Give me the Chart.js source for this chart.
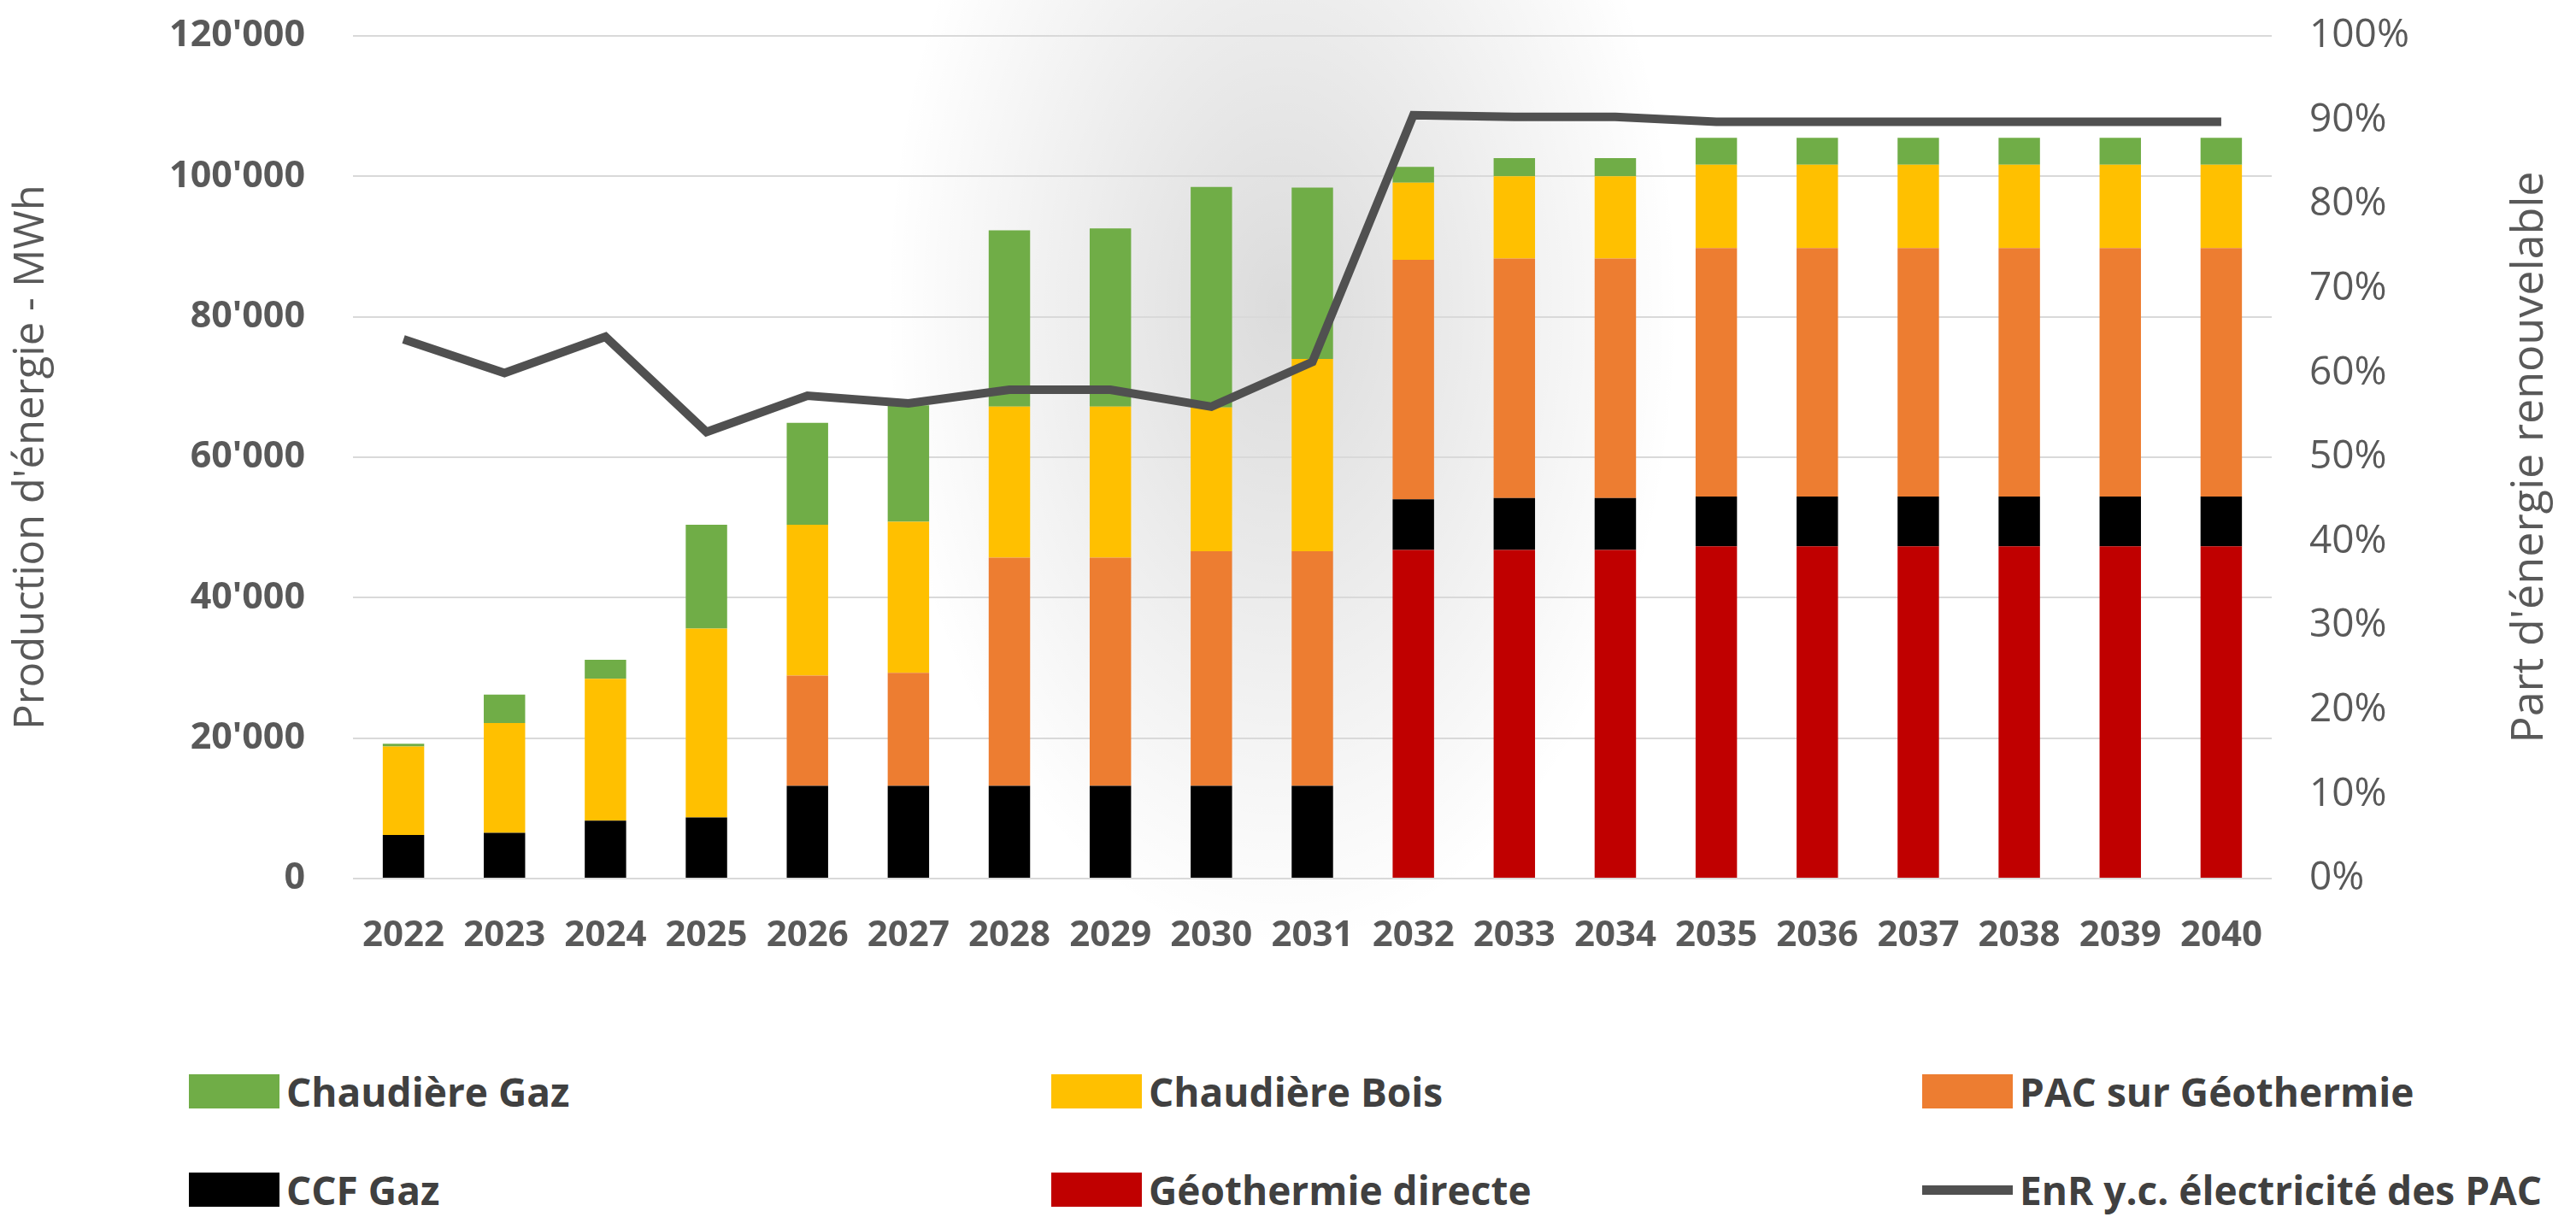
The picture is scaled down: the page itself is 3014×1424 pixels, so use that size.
<!DOCTYPE html>
<html lang="fr">
<head>
<meta charset="utf-8">
<script src="https://cdn.jsdelivr.net/npm/chart.js@4.4.1/dist/chart.umd.min.js"></script>
<style>
    html, body { margin: 0; padding: 0; }
    body {
        width: 3014px; height: 1424px; position: relative; overflow: hidden;
        background: #fff radial-gradient(ellipse 620px 1000px at 1500px 360px, rgba(0,0,0,0.14), rgba(0,0,0,0) 75%);
        font-family: 'Open Sans', sans-serif;
    }
    #zone { position: absolute; left: 0; top: 0; width: 3014px; height: 1160px; }
    .leg { position: absolute; display: flex; align-items: center; font-weight: 700; font-size: 46px; color: #404040; white-space: nowrap; }
    .leg .box { width: 106px; height: 40px; margin-right: 8px; }
    .leg .trait { width: 106px; height: 11px; margin-right: 8px; }
</style>
</head>
<body>
<div id="zone"><canvas id="chartEnergie"></canvas></div>
<div id="legende"></div>
<script>
// Données
const annees = ['2022', '2023', '2024', '2025', '2026', '2027', '2028', '2029', '2030', '2031',
    '2032', '2033', '2034', '2035', '2036', '2037', '2038', '2039', '2040'];
const geothermieDirecte = [0, 0, 0, 0, 0, 0, 0, 0, 0, 0,
    46800, 46800, 46800, 47300, 47300, 47300, 47300, 47300, 47300];
const ccfGaz = [6200, 6500, 8250, 8700, 13200, 13200, 13200, 13200, 13200, 13200,
    7200, 7400, 7400, 7100, 7100, 7100, 7100, 7100, 7100];
const pacGeothermie = [0, 0, 0, 0, 15700, 16100, 32500, 32500, 33400, 33400,
    34100, 34100, 34100, 35400, 35400, 35400, 35400, 35400, 35400];
const chaudiereBois = [12600, 15650, 20200, 26900, 21500, 21500, 21500, 21500, 20500, 27400,
    11000, 11700, 11700, 11850, 11850, 11850, 11850, 11850, 11850];
const chaudiereGaz = [400, 4050, 2700, 14800, 14500, 16600, 25100, 25400, 31400, 24400,
    2250, 2600, 2600, 3850, 3850, 3850, 3850, 3850, 3850];
const partEnR = [64, 60, 64.3, 53, 57.3, 56.4, 58, 58, 56, 61.3,
    90.6, 90.4, 90.4, 89.8, 89.8, 89.8, 89.8, 89.8, 89.8];

const couleurs = {
    gaz: '#70ad47',
    bois: '#ffc000',
    pac: '#ed7d31',
    ccf: '#000000',
    geo: '#c00000',
    ligne: '#505050',
    texte: '#595959',
    grille: '#d9d9d9'
};

function formatMilliers(v) {
    return String(v).replace(/\B(?=(\d{3})+(?!\d))/g, "'");
}

// titre de l'axe de droite, lu de bas en haut comme dans l'original
const titreDroite = {
    id: 'titreDroite',
    afterDraw(chart) {
        const ctx = chart.ctx;
        const area = chart.chartArea;
        ctx.save();
        ctx.translate(2960, (area.top + area.bottom) / 2);
        ctx.rotate(-Math.PI / 2);
        ctx.font = '52px "Open Sans"';
        ctx.fillStyle = couleurs.texte;
        ctx.textAlign = 'center';
        ctx.textBaseline = 'middle';
        ctx.fillText("Part d'énergie renouvelable", 0, 0);
        ctx.restore();
    }
};

const barres = { barPercentage: 0.41, categoryPercentage: 1, order: 1, yAxisID: 'y' };

const chart = new Chart(document.getElementById('chartEnergie'), {
    data: {
        labels: annees,
        datasets: [
            { type: 'line', label: 'EnR y.c. électricité des PAC', data: partEnR, yAxisID: 'y1', order: 0,
              borderColor: couleurs.ligne, backgroundColor: couleurs.ligne, borderWidth: 10,
              pointRadius: 0, tension: 0, fill: false },
            Object.assign({ type: 'bar', label: 'Géothermie directe', data: geothermieDirecte, backgroundColor: couleurs.geo }, barres),
            Object.assign({ type: 'bar', label: 'CCF Gaz', data: ccfGaz, backgroundColor: couleurs.ccf }, barres),
            Object.assign({ type: 'bar', label: 'PAC sur Géothermie', data: pacGeothermie, backgroundColor: couleurs.pac }, barres),
            Object.assign({ type: 'bar', label: 'Chaudière Bois', data: chaudiereBois, backgroundColor: couleurs.bois }, barres),
            Object.assign({ type: 'bar', label: 'Chaudière Gaz', data: chaudiereGaz, backgroundColor: couleurs.gaz }, barres)
        ]
    },
    options: {
        responsive: true,
        maintainAspectRatio: false,
        animation: false,
        layout: { padding: { top: 42, left: 0, right: 0, bottom: 0 } },
        plugins: {
            legend: { display: false },
            tooltip: { enabled: false }
        },
        scales: {
            x: {
                stacked: true,
                grid: { display: false },
                border: { display: false },
                ticks: {
                    color: couleurs.texte,
                    font: { family: 'Open Sans', size: 42, weight: 'bold' },
                    padding: 34,
                    maxRotation: 0,
                    autoSkip: false
                },
                afterFit(scale) { scale.height = 132; }
            },
            y: {
                stacked: true,
                position: 'left',
                min: 0,
                max: 120000,
                // le tick invisible sert d'écart entre les libellés et la zone du graphique
                grid: { color: couleurs.grille, lineWidth: 2, drawTicks: true, tickLength: 52, tickColor: 'rgba(0,0,0,0)' },
                border: { display: false },
                ticks: {
                    stepSize: 20000,
                    color: couleurs.texte,
                    font: { family: 'Open Sans', size: 43, weight: 'bold' },
                    padding: 4,
                    callback: function (value) { return formatMilliers(value); }
                },
                title: {
                    display: true,
                    text: "Production d'énergie - MWh",
                    color: couleurs.texte,
                    font: { family: 'Open Sans', size: 49 },
                    padding: { top: 8, bottom: 0 }
                },
                afterFit(scale) { scale.width = 413; }
            },
            y1: {
                position: 'right',
                min: 0,
                max: 100,
                grid: { display: true, drawOnChartArea: false, drawTicks: true, tickLength: 40, tickColor: 'rgba(0,0,0,0)', color: 'rgba(0,0,0,0)' },
                border: { display: false },
                ticks: {
                    stepSize: 10,
                    color: couleurs.texte,
                    font: { family: 'Open Sans', size: 46 },
                    padding: 4,
                    callback: function (value) { return value + '%'; }
                },
                afterFit(scale) { scale.width = 356; }
            }
        }
    },
    plugins: [titreDroite]
});

// Légende HTML sur trois colonnes
const ordreLegende = ['Chaudière Gaz', 'Chaudière Bois', 'PAC sur Géothermie',
    'CCF Gaz', 'Géothermie directe', 'EnR y.c. électricité des PAC'];
const colonnes = [221, 1230, 2249];
const lignes = [1278, 1393];
const legende = document.getElementById('legende');
ordreLegende.forEach(function (nom, i) {
    const ds = chart.data.datasets.find(d => d.label === nom);
    const item = document.createElement('div');
    item.className = 'leg';
    item.style.left = colonnes[i % 3] + 'px';
    item.style.top = (lignes[Math.floor(i / 3)] - 32) + 'px';
    const marque = document.createElement('span');
    marque.className = ds.type === 'line' ? 'trait' : 'box';
    marque.style.background = ds.type === 'line' ? ds.borderColor : ds.backgroundColor;
    item.appendChild(marque);
    item.appendChild(document.createTextNode(nom));
    legende.appendChild(item);
});
</script>
</body>
</html>
